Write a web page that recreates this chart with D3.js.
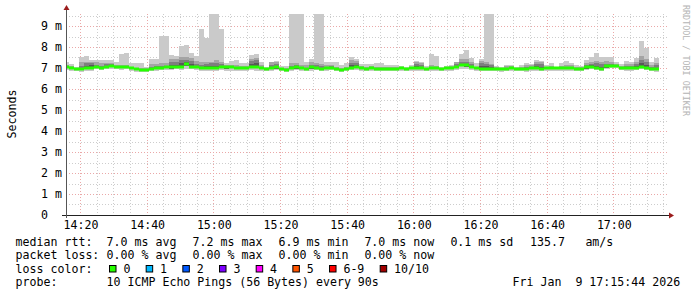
<!DOCTYPE html>
<html>
<head>
<meta charset="utf-8">
<script src="https://cdn.jsdelivr.net/npm/d3@7"></script>
<style>
body { margin: 0; background: #fff; }
svg { display: block; }
text { font-family: "DejaVu Sans Mono", monospace; white-space: pre; }
</style>
</head>
<body>
<svg id="drawing_region"></svg>
<script>
// 90 s steps, first sample starts 14:15:12 (UTC used as wall clock)
const stepSec = 90;
const firstSample = Date.UTC(2026, 0, 9, 14, 15, 12);

// median rtt in ms
const median = [7.03,6.98,6.97,6.97,6.98,6.98,7.05,7.02,7.06,7.11,
 7.06,7.03,7.06,6.98,6.94,6.92,6.92,6.97,7.00,7.02,
 7.03,7.03,7.03,7.06,7.20,7.06,7.03,6.98,6.98,6.98,
 6.98,7.03,7.03,7.06,7.02,6.98,6.98,7.05,7.05,6.98,
 6.97,6.98,7.03,6.94,6.90,7.00,7.03,6.98,6.95,7.03,
 7.00,6.94,7.00,7.02,6.97,6.92,6.97,7.00,7.05,7.00,
 6.95,6.98,6.97,6.97,6.95,6.97,6.97,6.98,6.97,6.98,
 7.02,6.98,6.95,6.98,6.98,6.97,6.98,7.00,7.05,7.16,
 7.13,7.05,6.98,6.97,6.97,6.97,6.97,6.94,6.97,7.00,
 6.97,6.95,6.94,6.98,6.98,6.97,6.98,6.98,6.98,6.98,
 6.98,6.98,6.97,6.97,7.03,7.06,7.00,6.97,7.08,7.10,
 7.10,7.00,6.98,6.98,7.00,7.06,7.02,6.97,6.94];

// sorted pings (smoke), ms
const ping10 = [7.27,7.17,7.06,7.52,7.57,7.38,7.38,7.38,7.38,7.38,
 7.30,7.65,7.71,7.25,7.25,7.25,7.03,7.43,7.43,8.52,
 8.52,7.62,7.57,8.06,8.11,7.73,7.57,8.86,8.43,9.60,
 9.60,8.86,7.22,7.33,7.38,7.22,7.22,7.62,7.67,7.30,
 7.06,7.30,7.35,7.10,7.10,9.60,9.60,9.60,7.30,7.43,
 9.60,9.60,7.30,7.30,7.30,7.14,7.22,7.54,7.41,7.19,
 7.19,7.19,7.22,7.25,7.14,7.14,7.14,7.10,7.06,7.14,
 7.35,7.30,7.10,7.65,7.57,7.06,7.10,7.14,7.30,7.67,
 7.86,7.46,7.22,7.43,9.60,9.60,7.10,7.03,7.14,7.14,
 7.06,7.14,7.25,7.19,7.38,7.33,7.14,7.25,7.06,7.25,
 7.33,7.25,7.14,7.10,7.38,7.54,7.70,7.54,7.51,7.54,
 7.30,7.19,7.35,7.30,7.46,8.30,7.94,7.30,7.46];

const ping9 = [7.15,7.08,7.02,7.28,7.30,7.30,7.28,7.22,7.25,7.25,
 7.15,7.14,7.14,7.06,7.02,7.00,6.98,7.20,7.20,7.22,
 7.25,7.45,7.42,7.50,7.52,7.48,7.35,7.30,7.28,7.30,
 7.38,7.30,7.12,7.14,7.12,7.08,7.08,7.45,7.48,7.12,
 7.02,7.28,7.28,7.00,6.98,7.25,7.25,7.15,7.14,7.30,
 7.25,7.20,7.14,7.12,7.06,7.00,7.06,7.40,7.32,7.08,
 7.06,7.08,7.06,7.06,7.04,7.04,7.04,7.04,7.02,7.04,
 7.30,7.25,7.02,7.12,7.10,7.02,7.04,7.08,7.30,7.42,
 7.45,7.30,7.06,7.35,7.30,7.20,7.04,6.98,7.08,7.08,
 7.02,7.06,7.15,7.12,7.30,7.28,7.06,7.10,7.02,7.10,
 7.14,7.12,7.06,7.04,7.25,7.30,7.35,7.30,7.32,7.30,
 7.18,7.10,7.20,7.20,7.30,7.55,7.45,7.15,7.25];

const ping8 = [7.08,7.03,7.00,7.10,7.25,7.25,7.15,7.10,7.18,7.20,
 7.10,7.08,7.10,7.02,6.98,6.96,6.95,7.05,7.08,7.10,
 7.10,7.30,7.30,7.38,7.40,7.35,7.20,7.15,7.20,7.22,
 7.22,7.18,7.08,7.10,7.06,7.03,7.03,7.35,7.38,7.05,
 6.99,7.15,7.18,6.97,6.94,7.10,7.12,7.05,7.02,7.15,
 7.15,7.10,7.06,7.08,7.01,6.96,7.01,7.25,7.22,7.04,
 7.00,7.03,7.01,7.01,6.99,7.00,7.00,7.01,7.00,7.01,
 7.20,7.12,6.99,7.05,7.04,6.99,7.01,7.04,7.20,7.30,
 7.30,7.18,7.02,7.22,7.20,7.12,7.00,6.96,7.02,7.04,
 6.99,7.00,7.06,7.05,7.20,7.18,7.02,7.04,7.00,7.04,
 7.06,7.05,7.01,7.00,7.15,7.20,7.22,7.18,7.20,7.18,
 7.12,7.05,7.10,7.10,7.18,7.40,7.30,7.06,7.12];

const ping7 = [7.05,7.00,6.99,7.02,7.10,7.12,7.08,7.05,7.10,7.14,
 7.08,7.05,7.08,7.00,6.96,6.94,6.93,7.00,7.03,7.05,
 7.05,7.15,7.15,7.22,7.28,7.20,7.10,7.05,7.10,7.10,
 7.10,7.08,7.05,7.08,7.04,7.00,7.00,7.20,7.22,7.01,
 6.98,7.05,7.08,6.95,6.92,7.04,7.06,7.01,6.98,7.06,
 7.06,7.02,7.03,7.05,6.99,6.94,6.99,7.12,7.12,7.02,
 6.97,7.00,6.99,6.99,6.97,6.98,6.98,6.99,6.98,6.99,
 7.10,7.05,6.97,7.01,7.01,6.98,6.99,7.02,7.10,7.20,
 7.20,7.10,7.00,7.10,7.10,7.05,6.98,6.95,6.99,7.02,
 6.98,6.97,6.99,7.01,7.08,7.06,7.00,7.01,6.99,7.01,
 7.02,7.01,6.99,6.98,7.08,7.12,7.10,7.06,7.12,7.14,
 7.12,7.03,7.03,7.03,7.08,7.22,7.15,7.00,7.02];

const ping2 = [6.98,6.94,6.92,6.92,6.93,6.94,7.00,6.97,7.01,7.05,
 7.01,6.98,7.01,6.93,6.89,6.87,6.87,6.92,6.95,6.97,
 6.98,6.97,6.98,6.99,7.08,7.00,6.98,6.93,6.93,6.93,
 6.93,6.98,6.97,7.00,6.97,6.93,6.93,7.00,7.00,6.93,
 6.92,6.93,6.97,6.89,6.86,6.95,6.97,6.93,6.90,6.97,
 6.95,6.89,6.95,6.97,6.92,6.87,6.92,6.95,6.99,6.95,
 6.90,6.93,6.92,6.92,6.90,6.92,6.92,6.93,6.92,6.93,
 6.97,6.93,6.90,6.93,6.93,6.92,6.93,6.95,6.99,7.08,
 7.06,6.99,6.93,6.92,6.92,6.92,6.92,6.89,6.92,6.95,
 6.92,6.90,6.89,6.93,6.93,6.92,6.93,6.93,6.93,6.93,
 6.93,6.93,6.92,6.92,6.97,7.00,6.95,6.92,7.02,7.04,
 7.04,6.95,6.93,6.93,6.95,7.00,6.96,6.92,6.89];

const ping1 = [6.92,6.88,6.84,6.83,6.84,6.88,6.93,6.92,6.94,6.97,
 6.95,6.92,6.95,6.88,6.83,6.82,6.82,6.86,6.86,6.90,
 6.92,6.92,6.93,6.92,6.95,6.93,6.92,6.88,6.88,6.87,
 6.87,6.92,6.86,6.88,6.88,6.86,6.86,6.90,6.84,6.84,
 6.86,6.88,6.90,6.84,6.82,6.86,6.90,6.86,6.84,6.88,
 6.90,6.85,6.88,6.90,6.86,6.82,6.86,6.90,6.92,6.88,
 6.85,6.88,6.86,6.86,6.85,6.86,6.86,6.88,6.86,6.86,
 6.88,6.88,6.85,6.88,6.88,6.86,6.86,6.88,6.92,6.97,
 6.97,6.90,6.84,6.84,6.86,6.86,6.86,6.83,6.86,6.88,
 6.86,6.85,6.83,6.86,6.88,6.86,6.86,6.86,6.88,6.86,
 6.86,6.86,6.86,6.86,6.90,6.93,6.90,6.86,6.96,6.98,
 6.98,6.90,6.88,6.88,6.90,6.95,6.90,6.86,6.83];

const yTicks = [0, 1, 2, 3, 4, 5, 6, 7, 8, 9];
const yTickLabels = ['0', '1 m', '2 m', '3 m', '4 m', '5 m', '6 m', '7 m', '8 m', '9 m'];

const lossLabels = ['0', '1', '2', '3', '4', '5', '6-9', '10/10'];
const lossColors = ['#26ff00', '#00b8ff', '#0059ff', '#7e00ff', '#ff00ff', '#ff5500', '#ff0000', '#a10000'];

const rttItems = ['7.0 ms avg', '7.2 ms max', '6.9 ms min', '7.0 ms now', '0.1 ms sd', '135.7', 'am/s'];
const lossItems = ['0.00 % avg', '0.00 % max', '0.00 % min', '0.00 % now'];
const probeText = '10 ICMP Echo Pings (56 Bytes) every 90s';
const stampText = 'Fri Jan  9 17:15:44 2026';

const W = 697, H = 297;
const plot = {left: 66, right: 666, top: 14, bottom: 215};

const svg = d3.select('#drawing_region')
    .attr('width', W)
    .attr('height', H);

svg.append('rect').attr('width', W).attr('height', H).attr('fill', '#fff');

const xscale = d3.scaleUtc()
    .domain([Date.UTC(2026, 0, 9, 14, 15, 48), Date.UTC(2026, 0, 9, 17, 15, 48)])
    .range([plot.left, plot.right]);

const yscale = d3.scaleLinear()
    .domain([0, 201 / 21])
    .range([plot.bottom, plot.top]);

const t = k => new Date(firstSample + k * stepSec * 1000);

// ---- grid (rrdtool style dotted)
const grid = svg.append('g');
const minorX = xscale.ticks(d3.utcMinute.every(5));
const majorX = xscale.ticks(d3.utcMinute.every(20));
const minorY = d3.range(0.5, 9.6, 1);
const minorCol = '#cdcdcd', majorCol = '#eaa8a8', dash = '1,2';

grid.selectAll('.vminor').data(minorX).join('line')
    .attr('x1', d => Math.round(xscale(d)) + 0.5).attr('x2', d => Math.round(xscale(d)) + 0.5)
    .attr('y1', plot.top).attr('y2', plot.bottom)
    .attr('stroke', minorCol).attr('stroke-dasharray', dash);

grid.selectAll('.hminor').data(minorY).join('line')
    .attr('x1', plot.left).attr('x2', plot.right + 2)
    .attr('y1', d => Math.round(yscale(d)) + 0.5).attr('y2', d => Math.round(yscale(d)) + 0.5)
    .attr('stroke', minorCol).attr('stroke-dasharray', dash);

grid.selectAll('.vmajor').data(majorX).join('line')
    .attr('x1', d => Math.round(xscale(d)) + 0.5).attr('x2', d => Math.round(xscale(d)) + 0.5)
    .attr('y1', plot.top).attr('y2', plot.bottom)
    .attr('stroke', majorCol).attr('stroke-dasharray', dash);

grid.selectAll('.hmajor').data(yTicks.slice(1)).join('line')
    .attr('x1', plot.left).attr('x2', plot.right + 2)
    .attr('y1', d => Math.round(yscale(d)) + 0.5).attr('y2', d => Math.round(yscale(d)) + 0.5)
    .attr('stroke', majorCol).attr('stroke-dasharray', dash);

// ---- smoke
svg.append('clipPath').attr('id', 'clip')
    .append('rect')
    .attr('x', plot.left + 1).attr('y', plot.top)
    .attr('width', plot.right - plot.left - 1).attr('height', plot.bottom - plot.top);

const chart = svg.append('g').attr('clip-path', 'url(#clip)');

const bands = [
    {lo: ping1, hi: ping10, color: '#cacaca'},
    {lo: ping2, hi: ping9, color: '#a4a4a4'},
    {lo: ping2, hi: ping8, color: '#7e7e7e'},
    {lo: ping2, hi: ping7, color: '#585858'}
];

bands.forEach(b => {
    chart.append('g').selectAll('rect')
        .data(median.map((m, k) => k))
        .join('rect')
        .attr('x', k => xscale(t(k)))
        .attr('width', k => xscale(t(k + 1)) - xscale(t(k)))
        .attr('y', k => Math.round(yscale(b.hi[k])))
        .attr('height', k => Math.max(0, Math.round(yscale(b.lo[k])) - Math.round(yscale(b.hi[k]))))
        .attr('fill', b.color);
});

// median, coloured by loss (all 0 here)
chart.append('g').selectAll('rect')
    .data(median)
    .join('rect')
    .attr('x', (d, k) => xscale(t(k)))
    .attr('width', (d, k) => xscale(t(k + 1)) - xscale(t(k)))
    .attr('y', d => Math.round(yscale(d)) - 1.5)
    .attr('height', 3)
    .attr('fill', lossColors[0]);

// ---- axes
svg.append('line')
    .attr('x1', plot.left - 4).attr('x2', plot.right + 3)
    .attr('y1', plot.bottom + 0.5).attr('y2', plot.bottom + 0.5)
    .attr('stroke', '#222');
svg.append('line')
    .attr('x1', plot.left + 0.5).attr('x2', plot.left + 0.5)
    .attr('y1', plot.bottom + 3).attr('y2', plot.top - 4)
    .attr('stroke', '#555');
svg.append('path')
    .attr('d', `M${plot.right + 3},${plot.bottom - 2.5} L${plot.right + 8},${plot.bottom + 0.5} L${plot.right + 3},${plot.bottom + 3.5} Z`)
    .attr('fill', '#9b1c1c');
svg.append('path')
    .attr('d', `M${plot.left - 2.5},${plot.top - 4} L${plot.left + 0.5},${plot.top - 9} L${plot.left + 3.5},${plot.top - 4} Z`)
    .attr('fill', '#9b1c1c');

// tick labels
svg.append('g').selectAll('text')
    .data(yTicks)
    .join('text')
    .attr('x', 41)
    .attr('y', d => yscale(d) + 4)
    .attr('font-size', '11.6px')
    .attr('fill', '#000')
    .text((d, i) => yTickLabels[i]);

svg.append('g').selectAll('text')
    .data(majorX)
    .join('text')
    .attr('x', d => xscale(d) + 1)
    .attr('y', 228.5)
    .attr('text-anchor', 'middle')
    .attr('font-size', '11.6px')
    .text(d => d3.utcFormat('%H:%M')(d));

svg.append('text')
    .attr('transform', 'translate(15.5,114) rotate(-90)')
    .attr('text-anchor', 'middle')
    .attr('font-size', '11.6px')
    .text('Seconds');

svg.append('text')
    .attr('transform', 'translate(683,5) rotate(90)')
    .attr('font-size', '8.4px')
    .attr('fill', '#b4b4b4')
    .text('RRDTOOL / TOBI OETIKER');

// ---- legend
const fs = '11.6px';
const colX = [106.6, 192.6, 278.6, 364.4, 450.4, 530, 585.4];
const rowY = [245.5, 259.2, 272.9, 286.4];

const legend = svg.append('g').attr('font-size', fs);

legend.append('text').attr('x', 15.6).attr('y', rowY[0]).text('median rtt:');
rttItems.forEach((s, i) => legend.append('text').attr('x', colX[i]).attr('y', rowY[0]).text(s));

legend.append('text').attr('x', 15.6).attr('y', rowY[1]).text('packet loss:');
lossItems.forEach((s, i) => legend.append('text').attr('x', colX[i]).attr('y', rowY[1]).text(s));

legend.append('text').attr('x', 15.6).attr('y', rowY[2]).text('loss color:');
let lx = 109;
lossLabels.forEach((s, i) => {
    legend.append('rect')
        .attr('x', lx + 0.5).attr('y', 265.5)
        .attr('width', 6.5).attr('height', 6.5)
        .attr('fill', lossColors[i])
        .attr('stroke', '#000');
    legend.append('text').attr('x', lx + 14.4).attr('y', rowY[2]).text(s);
    lx += 15 + s.length * 7 + 14.67;
});

legend.append('text').attr('x', 15.6).attr('y', rowY[3]).text('probe:');
legend.append('text').attr('x', colX[0]).attr('y', rowY[3]).text(probeText);
legend.append('text').attr('x', 512.6).attr('y', rowY[3]).text(stampText);
</script>
</body>
</html>
